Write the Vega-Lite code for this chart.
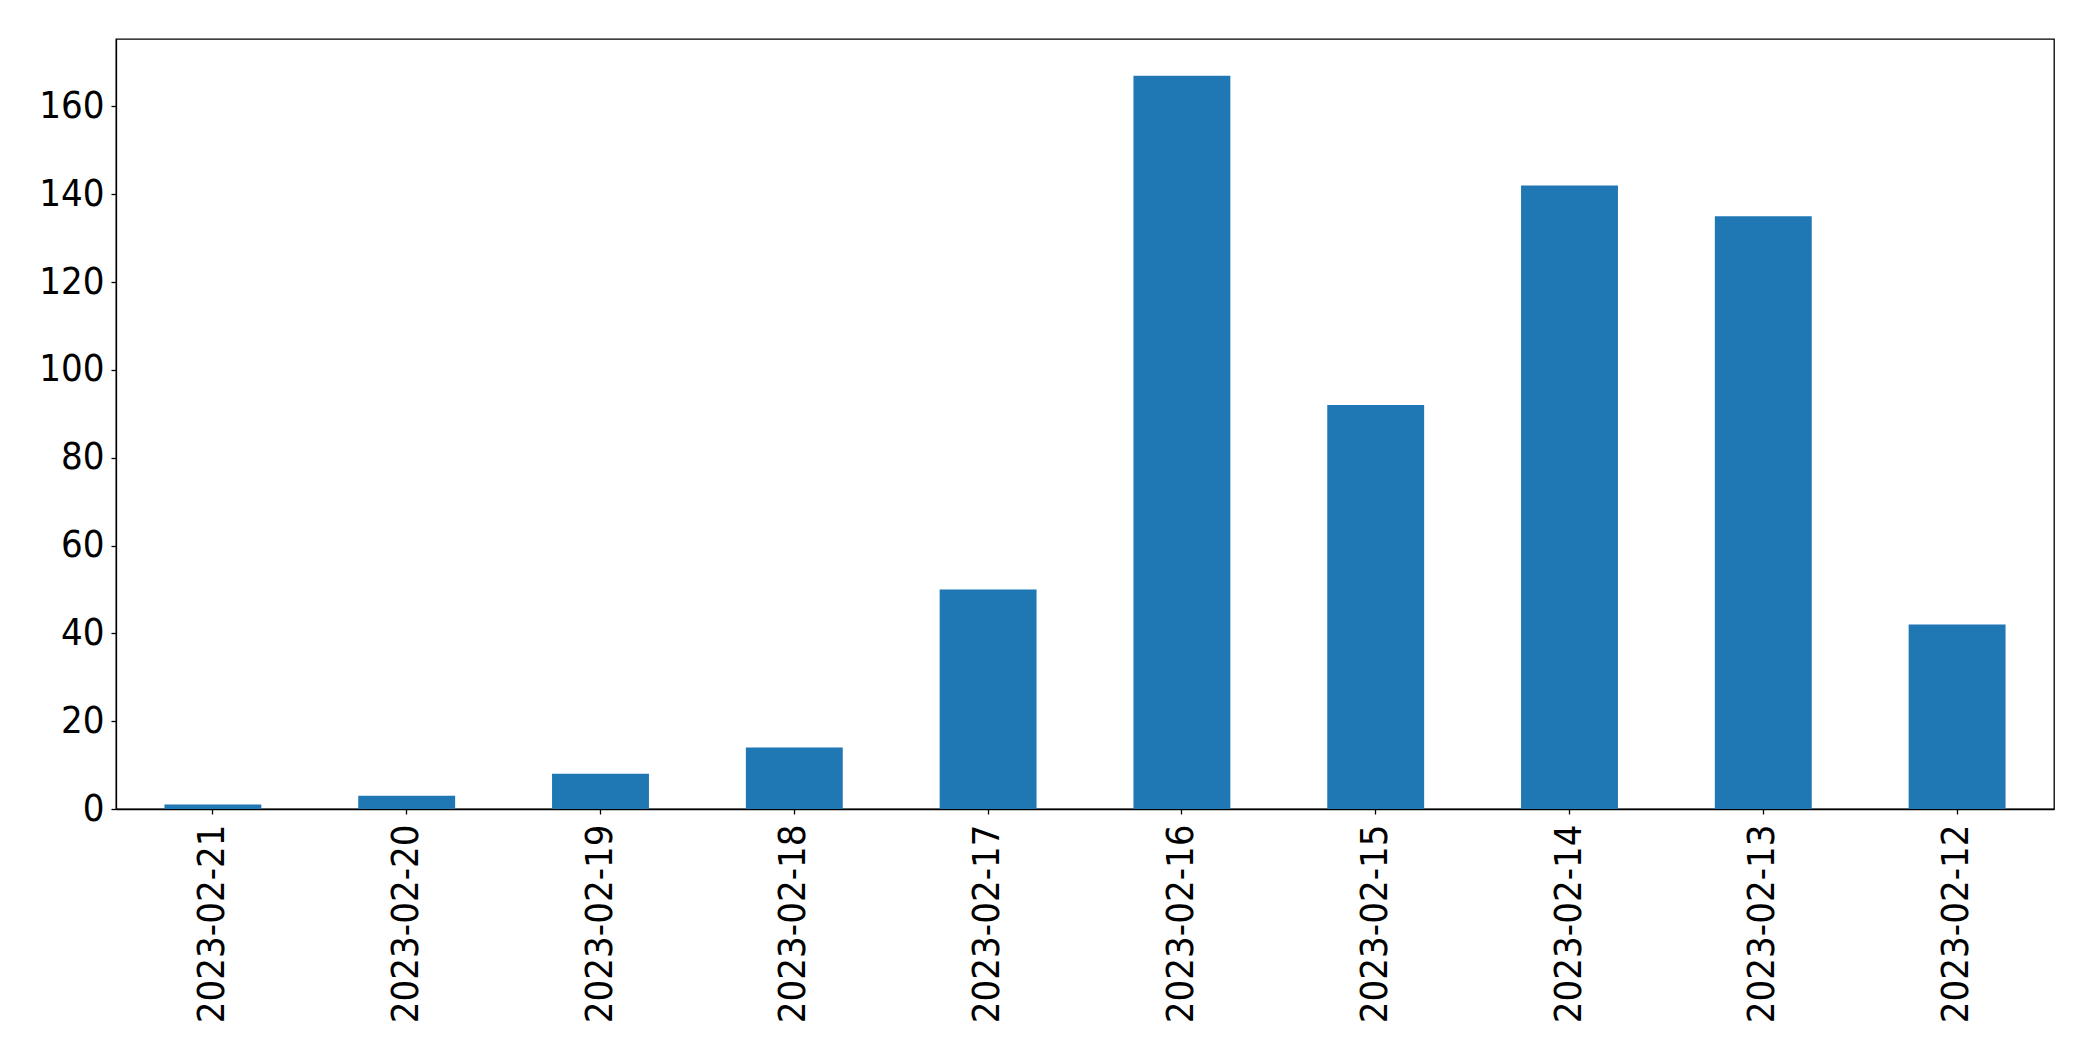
{
  "$schema": "https://vega.github.io/schema/vega-lite/v6.json",
  "width": 1938,
  "height": 770,
  "autosize": {"type": "none"},
  "padding": {"left": 116, "top": 39, "right": 39, "bottom": 252},
  "background": "white",
  "config": {
    "view": {"stroke": "black", "strokeWidth": 1.3},
    "axis": {
      "grid": false,
      "domainColor": "black",
      "domainWidth": 1.3,
      "tickColor": "black",
      "tickWidth": 1.3,
      "tickSize": 5,
      "labelFont": "DejaVu Sans Condensed",
      "labelFontSize": 38,
      "labelColor": "black",
      "labelLimit": 0,
      "title": null
    }
  },
  "data": {
    "values": [
      {"date": "2023-02-21", "count": 1},
      {"date": "2023-02-20", "count": 3},
      {"date": "2023-02-19", "count": 8},
      {"date": "2023-02-18", "count": 14},
      {"date": "2023-02-17", "count": 50},
      {"date": "2023-02-16", "count": 167},
      {"date": "2023-02-15", "count": 92},
      {"date": "2023-02-14", "count": 142},
      {"date": "2023-02-13", "count": 135},
      {"date": "2023-02-12", "count": 42}
    ]
  },
  "mark": {"type": "bar", "color": "#1f77b4"},
  "encoding": {
    "x": {
      "field": "date",
      "type": "nominal",
      "sort": null,
      "scale": {"paddingInner": 0.5, "paddingOuter": 0.25},
      "axis": {"labelAngle": 270, "labelPadding": 10}
    },
    "y": {
      "field": "count",
      "type": "quantitative",
      "scale": {"domain": [0, 175.35], "nice": false},
      "axis": {"values": [0, 20, 40, 60, 80, 100, 120, 140, 160], "labelPadding": 7}
    }
  }
}
